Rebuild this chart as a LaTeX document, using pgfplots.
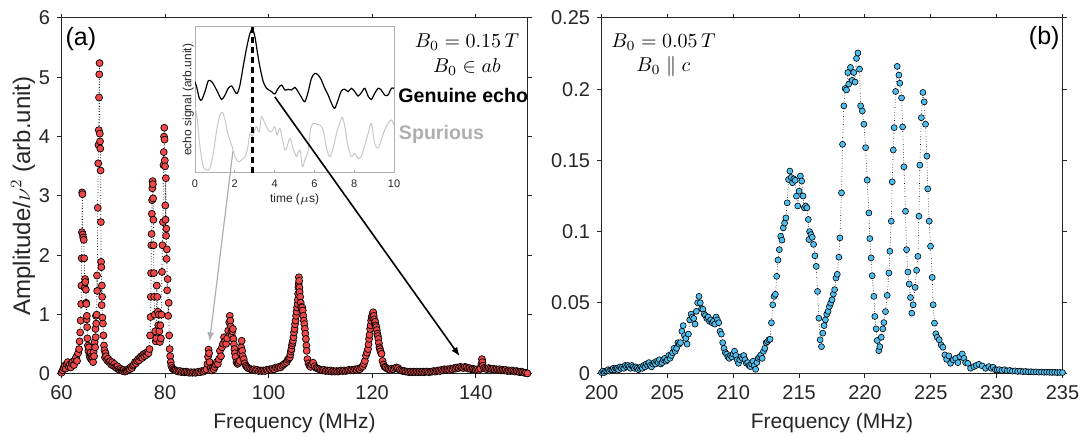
\documentclass[border=0pt]{standalone}
\usepackage{pgfplots}
\pgfplotsset{compat=1.18}
\usepackage{fontspec}
\setmainfont{Liberation Sans}
\usetikzlibrary{arrows.meta}
\definecolor{axgray}{RGB}{38,38,38}
\definecolor{redm}{RGB}{240,72,72}
\definecolor{bluem}{RGB}{77,190,238}
\definecolor{spur}{RGB}{175,175,175}
\definecolor{spurline}{RGB}{200,200,200}
\pgfplotsset{panel/.style={
  scale only axis, clip=false,
  axis line style={axgray, line width=0.5pt},
  tick style={axgray, line width=0.5pt},
  tick align=outside, major tick length=2.2pt,
  xtick pos=both, ytick pos=both,
  ticklabel style={font=\fontsize{10}{12}\selectfont, text=axgray},
  label style={font=\fontsize{10.5}{12}\selectfont, text=axgray},
  /pgf/number format/assume math mode=true,
  scaled ticks=false,
}}
\begin{document}
\begin{tikzpicture}
\path[use as bounding box] (0,0) rectangle (540pt,218.5pt);
% ---------------- panel (a)
\begin{axis}[panel, at={(30.75pt,31.5pt)}, anchor=south west,
  width=233pt, height=178pt,
  xmin=60, xmax=150, ymin=0, ymax=6,
  xtick={60,80,100,120,140}, ytick={0,1,2,3,4,5,6},
  xlabel={Frequency (MHz)}, ylabel={Amplitude/$\nu^2$ (arb.unit)},
  ylabel style={font=\fontsize{12}{14}\selectfont, yshift=-5pt}]
\addplot[black, line width=0.35pt, densely dotted, mark=*, mark size=1.75pt,
  mark options={solid, fill=redm, draw=black, line width=0.35pt}] coordinates {
(60.0,0.02) (60.2,0.06) (60.4,0.10) (60.6,0.14) (60.8,0.09) (61.0,0.17) (61.2,0.20) (61.4,0.12)
(61.6,0.16) (61.8,0.11) (62.0,0.18) (62.2,0.21) (62.4,0.15) (62.6,0.24) (62.8,0.28) (63.0,0.22)
(63.2,0.35) (63.4,0.42) (63.5,0.55) (63.6,0.70) (63.7,0.90) (63.8,1.18) (63.85,1.49) (63.9,1.95)
(63.95,2.39) (64.0,3.06) (64.05,3.03) (64.1,2.35) (64.2,2.30) (64.3,2.26) (64.4,1.95) (64.5,1.45)
(64.55,1.60) (64.6,1.55) (64.7,1.42) (64.75,1.20) (64.8,1.18) (64.85,0.92) (64.9,0.98) (64.95,0.79)
(65.0,0.60) (65.1,0.48) (65.2,0.39) (65.3,0.45) (65.4,0.32) (65.5,0.28) (65.6,0.36) (65.7,0.25)
(65.8,0.30) (65.9,0.23) (66.0,0.28) (66.1,0.20) (66.2,0.37) (66.3,0.30) (66.4,0.54) (66.5,0.45)
(66.55,0.76) (66.6,0.62) (66.65,0.98) (66.7,0.85) (66.8,1.00) (66.85,1.66) (66.9,1.40) (67.0,2.80)
(67.1,3.55) (67.15,3.86) (67.2,4.11) (67.25,4.66) (67.3,5.05) (67.35,5.24) (67.4,4.05) (67.45,3.92)
(67.5,3.80) (67.55,3.43) (67.6,2.56) (67.65,1.89) (67.7,1.80) (67.75,1.16) (67.8,1.49) (67.85,1.30)
(67.9,0.95) (68.0,0.85) (68.1,0.65) (68.2,0.48) (68.3,0.40) (68.4,0.28) (68.5,0.35) (68.6,0.30)
(68.8,0.23) (69.0,0.26) (69.2,0.20) (69.4,0.22) (69.6,0.16) (69.8,0.20) (70.0,0.14) (70.2,0.17)
(70.4,0.12) (70.6,0.10) (70.8,0.13) (71.0,0.08) (71.2,0.07) (71.4,0.09) (71.6,0.06) (71.8,0.05)
(72.0,0.07) (72.2,0.04) (72.4,0.06) (72.6,0.05) (72.8,0.07) (73.0,0.09) (73.2,0.08) (73.4,0.12)
(73.6,0.10) (73.8,0.14) (74.0,0.16) (74.2,0.20) (74.4,0.18) (74.6,0.22) (74.8,0.25) (75.0,0.23)
(75.2,0.28) (75.4,0.30) (75.6,0.27) (75.8,0.33) (76.0,0.30) (76.2,0.35) (76.4,0.32) (76.6,0.37)
(76.8,0.35) (77.0,0.42) (77.1,0.65) (77.2,0.96) (77.25,1.30) (77.3,1.70) (77.35,2.17) (77.4,2.36)
(77.45,2.70) (77.5,2.93) (77.55,3.13) (77.6,3.25) (77.65,3.20) (77.7,2.96) (77.75,2.60) (77.8,2.17)
(77.85,1.70) (77.9,1.30) (78.0,1.00) (78.1,0.72) (78.2,0.55) (78.3,0.60) (78.4,1.49) (78.5,1.30)
(78.6,1.05) (78.7,0.82) (78.8,1.00) (78.9,0.72) (79.0,0.54) (79.1,0.82) (79.2,0.60) (79.3,1.00)
(79.4,1.72) (79.5,2.17) (79.6,2.56) (79.7,3.52) (79.75,3.74) (79.8,4.00) (79.85,4.15) (79.9,3.95)
(79.95,3.60) (80.0,3.50) (80.05,2.84) (80.1,2.60) (80.15,3.30) (80.2,2.33) (80.25,2.45) (80.3,1.94)
(80.35,2.10) (80.4,1.41) (80.5,1.60) (80.6,0.98) (80.7,1.20) (80.8,0.65) (80.9,0.42) (81.0,0.30)
(81.1,0.20) (81.2,0.14) (81.4,0.10) (81.6,0.08) (81.8,0.07) (82.0,0.06) (82.3,0.05) (82.6,0.04)
(82.9,0.05) (83.2,0.03) (83.5,0.04) (83.8,0.03) (84.1,0.04) (84.4,0.03) (84.7,0.02) (85.0,0.03)
(85.3,0.02) (85.6,0.03) (85.9,0.02) (86.2,0.03) (86.5,0.04) (86.8,0.03) (87.1,0.05) (87.4,0.04)
(87.7,0.06) (88.0,0.08) (88.2,0.17) (88.3,0.29) (88.4,0.41) (88.5,0.35) (88.6,0.20) (88.8,0.10)
(89.0,0.06) (89.2,0.10) (89.4,0.08) (89.6,0.12) (89.8,0.16) (90.0,0.20) (90.2,0.17) (90.4,0.25)
(90.6,0.39) (90.8,0.30) (91.0,0.45) (91.2,0.51) (91.4,0.62) (91.6,0.55) (91.8,0.51) (92.0,0.60)
(92.2,0.73) (92.4,0.87) (92.5,0.98) (92.6,0.90) (92.7,0.80) (92.8,0.70) (92.9,0.65) (93.0,0.72)
(93.1,0.76) (93.2,0.59) (93.3,0.50) (93.4,0.42) (93.5,0.35) (93.6,0.29) (93.8,0.20) (94.0,0.17)
(94.2,0.19) (94.4,0.22) (94.6,0.35) (94.7,0.45) (94.8,0.56) (94.9,0.39) (95.0,0.30) (95.2,0.25)
(95.4,0.18) (95.6,0.14) (95.8,0.12) (96.0,0.10) (96.3,0.09) (96.6,0.08) (96.9,0.07) (97.2,0.08)
(97.5,0.06) (97.8,0.07) (98.1,0.05) (98.4,0.06) (98.7,0.05) (99.0,0.06) (99.3,0.05) (99.6,0.07)
(99.9,0.06) (100.2,0.08) (100.5,0.07) (100.8,0.09) (101.1,0.08) (101.4,0.11) (101.7,0.10) (102.0,0.12)
(102.3,0.11) (102.6,0.14) (102.9,0.16) (103.2,0.18) (103.5,0.20) (103.7,0.24) (103.9,0.26) (104.1,0.28)
(104.2,0.33) (104.3,0.38) (104.4,0.42) (104.5,0.48) (104.6,0.52) (104.7,0.56) (104.8,0.62) (104.9,0.70)
(105.0,0.76) (105.1,0.84) (105.2,0.90) (105.3,0.98) (105.4,1.05) (105.5,1.12) (105.6,1.18) (105.65,1.25)
(105.7,1.35) (105.75,1.46) (105.8,1.52) (105.85,1.63) (105.9,1.57) (105.95,1.46) (106.0,1.38) (106.1,1.30)
(106.2,1.20) (106.3,1.13) (106.4,1.08) (106.5,1.12) (106.6,1.07) (106.7,0.98) (106.8,0.90) (106.9,0.84)
(107.0,0.76) (107.1,0.68) (107.2,0.59) (107.3,0.48) (107.35,0.39) (107.5,0.25) (107.7,0.18) (107.9,0.14)
(108.1,0.12) (108.3,0.16) (108.6,0.19) (108.9,0.13) (109.2,0.10) (109.5,0.09) (109.8,0.08) (110.1,0.07)
(110.4,0.06) (110.7,0.07) (111.0,0.05) (111.3,0.06) (111.6,0.05) (111.9,0.06) (112.2,0.04) (112.5,0.05)
(112.8,0.04) (113.1,0.05) (113.4,0.04) (113.7,0.05) (114.0,0.06) (114.3,0.05) (114.6,0.06) (114.9,0.05)
(115.2,0.06) (115.5,0.07) (115.8,0.06) (116.1,0.07) (116.4,0.06) (116.7,0.08) (117.0,0.07) (117.3,0.09)
(117.6,0.08) (117.9,0.11) (118.2,0.13) (118.4,0.17) (118.6,0.22) (118.8,0.31) (119.0,0.36) (119.2,0.42)
(119.3,0.50) (119.4,0.59) (119.5,0.66) (119.6,0.76) (119.7,0.82) (119.8,0.90) (119.9,0.95) (120.0,0.98)
(120.1,1.02) (120.2,1.04) (120.3,0.98) (120.4,0.92) (120.5,0.84) (120.6,0.88) (120.7,0.82) (120.8,0.79)
(120.9,0.74) (121.0,0.68) (121.1,0.64) (121.2,0.59) (121.3,0.52) (121.4,0.45) (121.5,0.42) (121.6,0.38)
(121.8,0.34) (122.0,0.22) (122.2,0.16) (122.4,0.12) (122.6,0.11) (122.9,0.09) (123.2,0.08) (123.5,0.07)
(123.8,0.09) (124.1,0.08) (124.4,0.10) (124.7,0.11) (125.0,0.10) (125.3,0.07) (125.6,0.06) (125.9,0.05)
(126.2,0.05) (126.5,0.04) (126.8,0.04) (127.1,0.03) (127.4,0.04) (127.7,0.03) (128.0,0.04) (128.3,0.03)
(128.6,0.04) (128.9,0.03) (129.2,0.04) (129.5,0.03) (129.8,0.04) (130.1,0.03) (130.4,0.04) (130.7,0.04)
(131.0,0.03) (131.3,0.04) (131.6,0.04) (131.9,0.05) (132.2,0.04) (132.5,0.05) (132.8,0.06) (133.1,0.05)
(133.4,0.07) (133.7,0.06) (134.0,0.08) (134.3,0.07) (134.6,0.08) (134.9,0.07) (135.2,0.09) (135.5,0.08)
(135.8,0.10) (136.1,0.09) (136.4,0.11) (136.7,0.10) (137.0,0.12) (137.3,0.11) (137.6,0.10) (137.9,0.12)
(138.2,0.11) (138.5,0.09) (138.8,0.10) (139.1,0.08) (139.4,0.09) (139.7,0.08) (140.0,0.07) (140.3,0.08)
(140.6,0.07) (140.9,0.09) (141.1,0.17) (141.2,0.25) (141.3,0.20) (141.4,0.14) (141.6,0.10) (141.9,0.09)
(142.2,0.08) (142.5,0.10) (142.8,0.09) (143.1,0.08) (143.4,0.09) (143.7,0.07) (144.0,0.08) (144.3,0.07)
(144.6,0.08) (144.9,0.06) (145.2,0.07) (145.5,0.06) (145.8,0.07) (146.1,0.05) (146.4,0.06) (146.7,0.05)
(147.0,0.06) (147.3,0.05) (147.6,0.04) (147.9,0.05) (148.2,0.04) (148.5,0.03) (148.8,0.04) (149.1,0.03)
(149.4,0.02) (149.7,0.02) (150.0,0.01)
};
\node[anchor=west, font=\fontsize{12.5}{14}\selectfont, text=black, inner sep=0pt] at (axis cs:60.7,5.64) {(a)};
\node[font=\fontsize{10}{12}\selectfont, inner sep=0pt] at (axis cs:138.3,5.59) {$B_0=0.15\,T$};
\node[font=\fontsize{10}{12}\selectfont, inner sep=0pt] at (axis cs:138.3,5.17) {$B_0\in ab$};
\node[anchor=west, font=\bfseries\fontsize{9.8}{11}\selectfont, inner sep=0pt] at (axis cs:125.0,4.70) {Genuine echo};
\node[anchor=west, text=spur, font=\bfseries\fontsize{9.8}{11}\selectfont, inner sep=0pt] at (axis cs:125.1,4.04) {Spurious};
\coordinate (ga) at (axis cs:93.1,3.75);
\coordinate (gb) at (axis cs:88.6,0.55);
\coordinate (ba) at (axis cs:101.2,4.67);
\coordinate (bb) at (axis cs:136.9,0.30);
\end{axis}
% ---------------- inset
\begin{axis}[scale only axis, at={(97.5pt,132.15pt)}, anchor=south west,
  width=99.5pt, height=73pt, xmin=0, xmax=10, ymin=0, ymax=1,
  axis background/.style={fill=white},
  axis line style={spur, line width=0.4pt},
  tick style={spur, line width=0.4pt}, major tick length=1.5pt,
  xtick={0,2,4,6,8,10}, ytick=\empty, xtick pos=bottom,
  ticklabel style={font=\fontsize{5.5}{6}\selectfont, text=axgray},
  label style={font=\fontsize{6}{7}\selectfont, text=axgray},
  /pgf/number format/assume math mode=true,
  xlabel={time ($\mu$s)}, ylabel={echo signal (arb.unit)},
  xlabel style={yshift=3.5pt}, ylabel style={yshift=-3pt}]
\addplot[spurline, line width=0.5pt, smooth, tension=0.5] coordinates {
(0,0.452) (0.12,0.361) (0.25,0.178) (0.42,0.041) (0.59,0.018) (0.75,0.030) (0.92,0.132) (1.09,0.292)
(1.25,0.395) (1.39,0.411) (1.51,0.361) (1.67,0.258) (1.84,0.189) (2.01,0.110) (2.17,0.075) (2.34,0.087)
(2.51,0.110) (2.63,0.155) (2.76,0.269) (2.89,0.247) (3.01,0.292) (3.09,0.315) (3.23,0.281) (3.34,0.384)
(3.51,0.338) (3.68,0.292) (3.85,0.281) (4.01,0.315) (4.13,0.258) (4.26,0.304) (4.40,0.224) (4.52,0.155)
(4.63,0.178) (4.77,0.235) (4.93,0.167) (5.10,0.110) (5.27,0.155) (5.40,0.041) (5.52,0.087) (5.69,0.155)
(5.80,0.292) (5.94,0.338) (6.10,0.333) (6.27,0.326) (6.44,0.292) (6.61,0.167) (6.77,0.110) (6.94,0.167)
(7.11,0.269) (7.27,0.338) (7.41,0.379) (7.53,0.315) (7.69,0.178) (7.86,0.110) (8.03,0.132) (8.19,0.098)
(8.36,0.114) (8.53,0.189) (8.70,0.269) (8.86,0.338) (9.03,0.201) (9.20,0.167) (9.36,0.224) (9.53,0.292)
(9.70,0.338) (9.87,0.361) (10.0,0.326)
};
\addplot[black, line width=0.6pt, smooth, tension=0.5] coordinates {
(0,0.623) (0.08,0.589) (0.22,0.509) (0.33,0.498) (0.50,0.555) (0.67,0.630) (0.84,0.623) (1.00,0.589)
(1.17,0.543) (1.34,0.502) (1.51,0.532) (1.67,0.578) (1.84,0.594) (2.01,0.555) (2.12,0.543) (2.26,0.600)
(2.42,0.726) (2.59,0.852) (2.76,0.954) (2.89,0.982) (3.01,0.932) (3.13,0.829) (3.26,0.726) (3.43,0.623)
(3.60,0.578) (3.85,0.555) (4.01,0.539) (4.18,0.578) (4.35,0.600) (4.52,0.566) (4.68,0.571) (4.85,0.566)
(5.02,0.584) (5.18,0.555) (5.35,0.516) (5.52,0.486) (5.69,0.555) (5.85,0.646) (6.02,0.680) (6.19,0.669)
(6.35,0.635) (6.52,0.578) (6.69,0.532) (6.86,0.475) (7.02,0.441) (7.19,0.498) (7.36,0.562) (7.53,0.571)
(7.69,0.555) (7.86,0.578) (8.03,0.555) (8.19,0.525) (8.36,0.548) (8.53,0.578) (8.70,0.525) (8.86,0.502)
(9.03,0.543) (9.20,0.578) (9.36,0.566) (9.53,0.532) (9.70,0.532) (9.87,0.578) (10.0,0.578)
};
\addplot[black, line width=1.4pt, dash pattern=on 3pt off 2pt] coordinates {(2.89,0) (2.89,1)};
\end{axis}
\draw[spur, line width=0.6pt, -{Latex[length=4.5pt,width=3.5pt]}] (ga) -- (gb);
\draw[black, line width=0.8pt, -{Latex[length=4.5pt,width=3.5pt]}] (ba) -- (bb);
% ---------------- panel (b)
\begin{axis}[panel, at={(300.75pt,31.5pt)}, anchor=south west,
  width=230.5pt, height=178pt,
  xmin=200, xmax=235, ymin=0, ymax=0.25,
  xtick={200,205,210,215,220,225,230,235},
  ytick={0,0.05,0.1,0.15,0.2,0.25}, yticklabels={0,0.05,0.1,0.15,0.2,0.25},
  xlabel={Frequency (MHz)}]
\addplot[black, line width=0.3pt, densely dotted, mark=*, mark size=1.5pt,
  mark options={solid, fill=bluem, draw=black, line width=0.3pt}] coordinates {
(200.0,0.001) (200.1,0.002) (200.2,0.001) (200.3,0.002) (200.4,0.002) (200.5,0.003) (200.6,0.002) (200.7,0.003)
(200.8,0.003) (200.9,0.004) (201.0,0.003) (201.1,0.004) (201.2,0.004) (201.3,0.003) (201.4,0.005) (201.5,0.004)
(201.6,0.005) (201.7,0.004) (201.8,0.006) (201.9,0.005) (202.0,0.006) (202.1,0.005) (202.2,0.004) (202.3,0.006)
(202.4,0.005) (202.5,0.004) (202.6,0.005) (202.7,0.004) (202.8,0.003) (202.9,0.004) (203.0,0.005) (203.1,0.004)
(203.2,0.006) (203.3,0.005) (203.4,0.007) (203.5,0.006) (203.6,0.008) (203.7,0.006) (203.8,0.005) (203.9,0.007)
(204.0,0.008) (204.1,0.007) (204.2,0.009) (204.3,0.008) (204.4,0.010) (204.5,0.007) (204.6,0.008) (204.7,0.010)
(204.8,0.011) (204.9,0.009) (205.0,0.010) (205.1,0.013) (205.2,0.011) (205.3,0.013) (205.4,0.015) (205.5,0.018)
(205.6,0.016) (205.7,0.018) (205.8,0.022) (205.9,0.021) (206.0,0.022) (206.1,0.030) (206.2,0.034) (206.3,0.027)
(206.4,0.025) (206.5,0.021) (206.6,0.028) (206.7,0.038) (206.8,0.042) (206.9,0.040) (207.0,0.039) (207.1,0.035)
(207.2,0.044) (207.3,0.050) (207.4,0.0545) (207.5,0.050) (207.6,0.046) (207.7,0.0455) (207.8,0.042) (207.9,0.041)
(208.0,0.039) (208.1,0.040) (208.2,0.037) (208.3,0.038) (208.4,0.036) (208.5,0.037) (208.6,0.035) (208.7,0.040)
(208.8,0.038) (208.9,0.036) (209.0,0.030) (209.1,0.028) (209.2,0.022) (209.3,0.018) (209.4,0.015) (209.5,0.014)
(209.6,0.012) (209.7,0.011) (209.8,0.013) (209.9,0.012) (210.0,0.014) (210.1,0.016) (210.2,0.013) (210.3,0.010)
(210.4,0.0075) (210.5,0.010) (210.6,0.012) (210.7,0.011) (210.8,0.013) (210.9,0.010) (211.0,0.0075) (211.1,0.008)
(211.2,0.006) (211.3,0.0052) (211.4,0.007) (211.5,0.009) (211.6,0.006) (211.7,0.0033) (211.8,0.008) (211.9,0.011)
(212.0,0.012) (212.1,0.0134) (212.2,0.011) (212.3,0.016) (212.4,0.018) (212.5,0.022) (212.6,0.0228) (212.7,0.024)
(212.8,0.0244) (212.9,0.036) (213.0,0.0486) (213.1,0.0545) (213.2,0.056) (213.3,0.0686) (213.4,0.080) (213.5,0.0873)
(213.6,0.0967) (213.7,0.094) (213.8,0.1026) (213.9,0.106) (214.0,0.1096) (214.1,0.1202) (214.2,0.1366) (214.3,0.1425)
(214.4,0.138) (214.5,0.1343) (214.6,0.137) (214.7,0.136) (214.8,0.1249) (214.9,0.118) (215.0,0.1284) (215.1,0.139)
(215.2,0.1355) (215.3,0.125) (215.4,0.1167) (215.5,0.118) (215.6,0.1167) (215.7,0.1085) (215.75,0.0944) (215.8,0.100)
(215.9,0.0979) (216.0,0.096) (216.1,0.091) (216.2,0.083) (216.3,0.0756) (216.4,0.058) (216.5,0.0392) (216.6,0.024)
(216.7,0.0192) (216.8,0.0287) (216.9,0.034) (217.0,0.038) (217.1,0.042) (217.2,0.044) (217.3,0.0474) (217.4,0.0498)
(217.5,0.0521) (217.6,0.0561) (217.7,0.0592) (217.8,0.0674) (217.9,0.070) (218.02,0.082) (218.1,0.0956) (218.22,0.1272)
(218.3,0.1613) (218.4,0.1883) (218.5,0.2005) (218.6,0.1995) (218.7,0.2117) (218.77,0.2036) (218.9,0.2153) (219.03,0.2062)
(219.15,0.2117) (219.25,0.205) (219.36,0.2216) (219.47,0.2254) (219.59,0.2141) (219.67,0.1883) (219.8,0.1847) (219.92,0.1754)
(220.05,0.1589) (220.17,0.1361) (220.3,0.1131) (220.37,0.0951) (220.47,0.0815) (220.55,0.069) (220.68,0.0545) (220.75,0.0404)
(220.85,0.0317) (220.93,0.0235) (221.05,0.0164) (221.13,0.0192) (221.24,0.0258) (221.36,0.0317) (221.44,0.0361) (221.56,0.0438)
(221.69,0.0552) (221.82,0.0709) (221.89,0.0862) (222.0,0.1073) (222.07,0.135) (222.15,0.1573) (222.22,0.173) (222.33,0.1984)
(222.45,0.216) (222.58,0.2099) (222.65,0.2042) (222.78,0.1939) (222.86,0.1735) (222.96,0.1455) (223.08,0.1143) (223.16,0.0873)
(223.26,0.0716) (223.36,0.0632) (223.46,0.0537) (223.56,0.0427) (223.66,0.0486) (223.81,0.0608) (223.92,0.0728) (224.02,0.0826)
(224.1,0.1108) (224.17,0.1467) (224.28,0.180) (224.4,0.1977) (224.5,0.1911) (224.6,0.1754) (224.7,0.153) (224.77,0.130)
(224.88,0.1073) (224.98,0.0897) (225.11,0.0678) (225.18,0.0486) (225.28,0.0357) (225.38,0.0282) (225.49,0.0258) (225.64,0.024)
(225.79,0.0204) (225.92,0.0188) (226.07,0.0134) (226.2,0.0103) (226.37,0.0127) (226.5,0.0075) (226.7,0.0099) (226.89,0.011)
(227.06,0.008) (227.21,0.0122) (227.39,0.0141) (227.52,0.011) (227.64,0.008) (227.81,0.0075) (228.02,0.004) (228.27,0.0052)
(228.45,0.006) (228.65,0.0068) (228.9,0.0057) (229.16,0.004) (229.41,0.0052) (229.6,0.004) (229.74,0.0047) (229.9,0.003)
(230.04,0.0029) (230.2,0.003) (230.4,0.0025) (230.6,0.003) (230.8,0.0022) (231.0,0.0025) (231.2,0.002) (231.4,0.0022)
(231.6,0.0018) (231.8,0.002) (232.0,0.0016) (232.2,0.0018) (232.4,0.0015) (232.6,0.0016) (232.8,0.0014) (233.0,0.0015)
(233.2,0.0013) (233.4,0.0014) (233.6,0.0012) (233.8,0.0013) (234.0,0.0012) (234.2,0.0011) (234.4,0.0012) (234.6,0.001)
(234.8,0.0011) (235.0,0.001)
};
\node[anchor=east, font=\fontsize{12.5}{14}\selectfont, text=black, inner sep=0pt] at (axis cs:234.8,0.236) {(b)};
\node[font=\fontsize{10}{12}\selectfont, inner sep=0pt] at (axis cs:204.7,0.2333) {$B_0=0.05\,T$};
\node[font=\fontsize{10}{12}\selectfont, inner sep=0pt] at (axis cs:204.7,0.2157) {$B_0\parallel c$};
\end{axis}
\end{tikzpicture}
\end{document}
